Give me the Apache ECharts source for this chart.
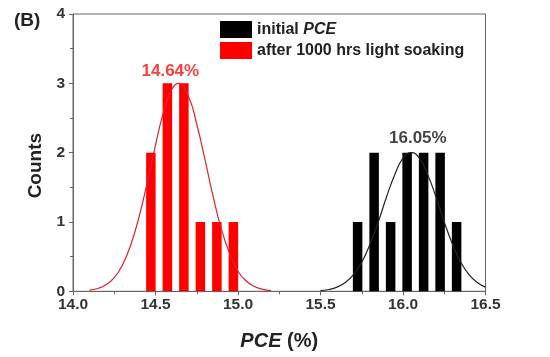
<!DOCTYPE html>
<html><head><meta charset="utf-8">
<script src="https://cdn.jsdelivr.net/npm/echarts@6/dist/echarts.min.js"></script>
<style>html,body{margin:0;padding:0;background:#fff}#c{width:550px;height:357px}</style>
</head><body><div id="c"></div>
<script>
const xTicks = [14.0, 14.5, 15.0, 15.5, 16.0, 16.5];
const yTicks = [0, 1, 2, 3, 4];
const seriesNames = ['initial PCE', 'after 1000 hrs light soaking'];
const blackX = [15.725, 15.825, 15.925, 16.025, 16.125, 16.225, 16.325];
const blackCounts = [1, 2, 1, 2, 2, 2, 1];
const redX = [14.472, 14.572, 14.672, 14.772, 14.872, 14.972];
const redCounts = [2, 3, 3, 1, 1, 1];
const redFitX = [14.10,14.15,14.20,14.25,14.30,14.35,14.40,14.45,14.50,14.55,14.60,14.64,14.70,14.75,14.80,14.85,14.90,14.95,15.00,15.05,15.10,15.15,15.20];
const redFitY = [0.016,0.041,0.093,0.196,0.38,0.67,1.07,1.57,2.11,2.60,2.92,3.0,2.81,2.41,1.90,1.36,0.89,0.54,0.29,0.148,0.068,0.028,0.011];
const blackFitX = [15.50,15.55,15.60,15.65,15.70,15.75,15.80,15.85,15.90,15.95,16.00,16.05,16.10,16.15,16.20,16.25,16.30,16.35,16.40,16.45,16.50];
const blackFitY = [0.011,0.026,0.060,0.126,0.24,0.42,0.68,1.00,1.36,1.68,1.92,2.0,1.92,1.68,1.36,1.00,0.68,0.42,0.24,0.126,0.060];
const peakLabels = [{x: 14.59, y: 3.18, text: '14.64%', color: '#f01010'}, {x: 16.09, y: 2.2, text: '16.05%', color: '#111'}];

const zip = (a, b) => a.map((v, i) => [v, b[i]]);
const FONT = 'Liberation Sans, Arial, sans-serif';
const chart = echarts.init(document.getElementById('c'));
chart.setOption({
  animation: false,
  title: {text: '(B)', left: 9, top: 6, textStyle: {fontFamily: FONT, fontSize: 19, fontWeight: 'bold', color: '#222'}},
  grid: {left: 73, right: 64.5, top: 14, bottom: 65.7, show: true, borderColor: '#666', borderWidth: 1},
  legend: {
    data: seriesNames, orient: 'vertical', left: 215, top: 16, itemWidth: 32, itemHeight: 17, itemGap: 4,
    icon: 'rect',
    formatter: n => n === 'initial PCE' ? 'initial {i|PCE}' : n,
    textStyle: {fontFamily: FONT, fontSize: 16, lineHeight: 17, fontWeight: 'bold', color: '#222',
      rich: {i: {fontFamily: FONT, fontSize: 16, lineHeight: 17, fontWeight: 'bold', fontStyle: 'italic', color: '#222'}}}
  },
  xAxis: {
    type: 'value', min: xTicks[0], max: xTicks[xTicks.length - 1], interval: 0.5,
    name: '{i|PCE} (%)', nameLocation: 'middle', nameGap: 40,
    nameTextStyle: {fontFamily: FONT, fontSize: 20, fontWeight: 'bold', color: '#222',
      rich: {i: {fontFamily: FONT, fontSize: 20, fontWeight: 'bold', fontStyle: 'italic', color: '#222'}}},
    axisLine: {lineStyle: {color: '#666'}},
    axisTick: {show: true, length: 4, lineStyle: {color: '#666'}},
    minorTick: {show: true, splitNumber: 2, length: 3, lineStyle: {color: '#666'}},
    splitLine: {show: false},
    axisLabel: {fontFamily: FONT, fontSize: 15.5, fontWeight: 'bold', color: '#333', margin: 5, formatter: v => v.toFixed(1)}
  },
  yAxis: {
    type: 'value', min: yTicks[0], max: yTicks[yTicks.length - 1], interval: 1,
    name: 'Counts', nameLocation: 'middle', nameGap: 26,
    nameTextStyle: {fontFamily: FONT, fontSize: 19, fontWeight: 'bold', color: '#222', padding: [0, 26, 0, 0]},
    axisLine: {show: true, lineStyle: {color: '#666'}},
    axisTick: {show: true, length: 4, lineStyle: {color: '#666'}},
    minorTick: {show: true, splitNumber: 2, length: 3, lineStyle: {color: '#666'}},
    splitLine: {show: false},
    axisLabel: {fontFamily: FONT, fontSize: 15.5, fontWeight: 'bold', color: '#333', margin: 8}
  },
  series: [
    {name: seriesNames[0], type: 'bar', barWidth: 9.5, barGap: '-100%', itemStyle: {color: '#000'}, data: zip(blackX, blackCounts)},
    {name: seriesNames[1], type: 'bar', barWidth: 9.5, barGap: '-100%', itemStyle: {color: '#ff0000'}, data: zip(redX, redCounts)},
    {name: 'redfit', type: 'line', smooth: true, showSymbol: false, lineStyle: {color: '#e0202a', width: 1.2}, data: zip(redFitX, redFitY), z: 3},
    {name: 'blackfit', type: 'line', smooth: true, showSymbol: false, lineStyle: {color: '#222', width: 1.2}, data: zip(blackFitX, blackFitY), z: 3},
    {name: 'peaks', type: 'scatter', symbolSize: 1, itemStyle: {color: 'rgba(0,0,0,0)'},
      data: peakLabels.map(p => ({value: [p.x, p.y], label: {show: true, position: 'inside', formatter: p.text,
        fontFamily: FONT, fontSize: 17, fontWeight: 'bold', color: p.color}})), z: 5}
  ]
});
</script></body></html>
